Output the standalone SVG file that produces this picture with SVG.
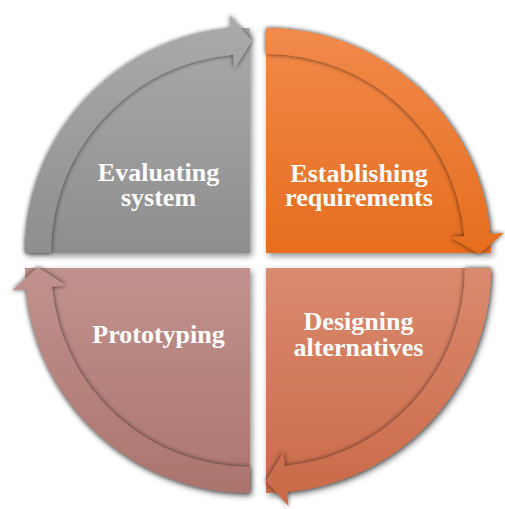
<svg xmlns="http://www.w3.org/2000/svg" width="505" height="509" viewBox="0 0 505 509">
  <style>
    .label { font-family: "Liberation Serif", "Times New Roman", serif; font-weight: bold; font-size: 26px; fill: #ffffff; text-anchor: middle; }
    .pie { filter: url(#dropShadow); }
    .arrow { filter: url(#bandShadow); }
  </style>
  <defs>
    <filter id="dropShadow" x="-10%" y="-10%" width="125%" height="125%">
      <feGaussianBlur in="SourceAlpha" stdDeviation="3"/>
      <feOffset dx="2" dy="3" result="b"/>
      <feComponentTransfer><feFuncA type="linear" slope="0.45"/></feComponentTransfer>
      <feMerge><feMergeNode/><feMergeNode in="SourceGraphic"/></feMerge>
    </filter>
    <filter id="bandShadow" x="-15%" y="-15%" width="130%" height="130%">
      <feGaussianBlur in="SourceAlpha" stdDeviation="2.5"/>
      <feComponentTransfer><feFuncA type="linear" slope="0.7"/></feComponentTransfer>
      <feMerge><feMergeNode/><feMergeNode in="SourceGraphic"/></feMerge>
    </filter>
    <linearGradient id="gGray" gradientUnits="userSpaceOnUse" x1="0" y1="14" x2="0" y2="253">
      <stop offset="0" stop-color="#ababab"/>
      <stop offset="1" stop-color="#8e8e8e"/>
    </linearGradient>
    <linearGradient id="gOrange" gradientUnits="userSpaceOnUse" x1="0" y1="28" x2="0" y2="255">
      <stop offset="0" stop-color="#f18a4c"/>
      <stop offset="1" stop-color="#e66d1d"/>
    </linearGradient>
    <linearGradient id="gTerra" gradientUnits="userSpaceOnUse" x1="0" y1="268" x2="0" y2="506">
      <stop offset="0" stop-color="#da8a6e"/>
      <stop offset="1" stop-color="#c96947"/>
    </linearGradient>
    <linearGradient id="gRose" gradientUnits="userSpaceOnUse" x1="0" y1="267" x2="0" y2="493">
      <stop offset="0" stop-color="#c1928d"/>
      <stop offset="1" stop-color="#ab756d"/>
    </linearGradient>
  </defs>

  <!-- quadrant: evaluating system (top-left) -->
  <g id="evaluating">
    <path class="pie" d="M250,253 L25,253 A225,225 0 0 1 250,28 Z" fill="url(#gGray)"/>
    <text class="label" x="158.5" y="181">Evaluating</text>
    <text class="label" x="158.5" y="206">system</text>
  </g>

  <!-- quadrant: establishing requirements (top-right) -->
  <g id="establishing">
    <path class="pie" d="M266,253 L266,28 A225,225 0 0 1 491,253 Z" fill="url(#gOrange)"/>
    <text class="label" x="359" y="182">Establishing</text>
    <text class="label" x="359" y="206">requirements</text>
  </g>

  <!-- quadrant: designing alternatives (bottom-right) -->
  <g id="designing">
    <path class="pie" d="M266,268 L491,268 A225,225 0 0 1 266,493 Z" fill="url(#gTerra)"/>
    <text class="label" x="358.5" y="330">Designing</text>
    <text class="label" x="358.5" y="356">alternatives</text>
  </g>

  <!-- quadrant: prototyping (bottom-left) -->
  <g id="prototyping">
    <path class="pie" d="M250,268 L250,493 A225,225 0 0 1 25,268 Z" fill="url(#gRose)"/>
    <text class="label" x="158.5" y="343">Prototyping</text>
  </g>

  <!-- curved arrows running clockwise round the rim -->
  <g id="connectors">
    <path class="arrow" fill="url(#gGray)" d="M25,253 A225,225 0 0 1 230.9,28.8 L229.7,14.9 L252,41 L234.3,68.7 L233.1,54.7 A199,199 0 0 0 51,253 Z"/>
    <path class="arrow" fill="url(#gOrange)" d="M266,28 A225,225 0 0 1 490.2,233.9 L504.1,232.7 L479,254 L450.3,237.3 L464.3,236.1 A199,199 0 0 0 266,54 Z"/>
    <path class="arrow" fill="url(#gTerra)" d="M491,268 A225,225 0 0 1 287.2,492 L288.5,505.9 L266,481 L283.4,452.2 L284.8,466.1 A199,199 0 0 0 465,268 Z"/>
    <path class="arrow" fill="url(#gRose)" d="M250,493 A225,225 0 0 1 26,289.2 L12.1,290.5 L38,267 L65.8,285.4 L51.9,286.8 A199,199 0 0 0 250,467 Z"/>
  </g>
</svg>
